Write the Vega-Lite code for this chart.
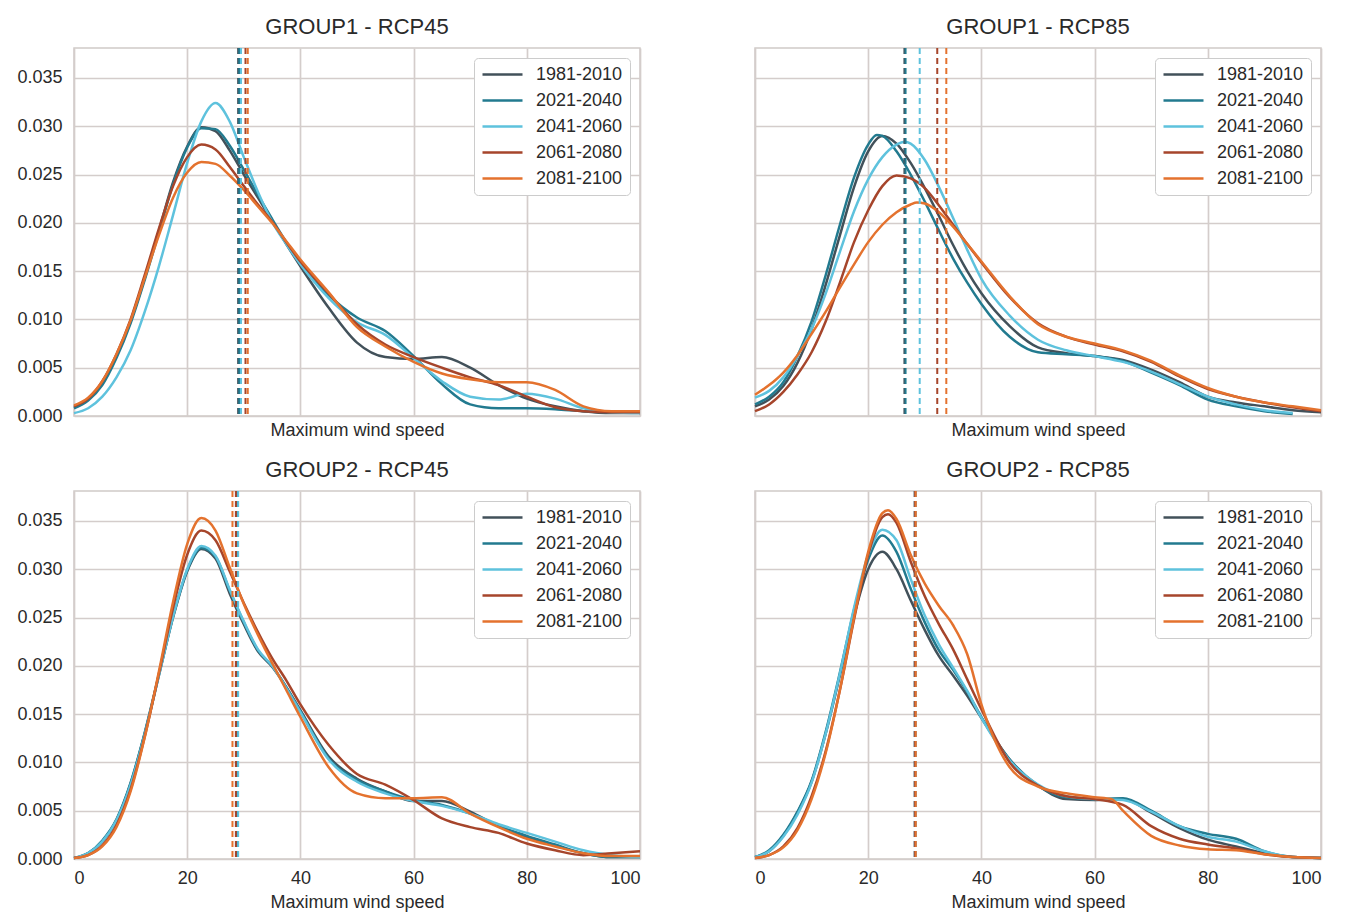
{
  "$schema": "https://vega.github.io/schema/vega-lite/v6.json",
  "background": "white",
  "padding": {"left": 16, "top": 15, "right": 5, "bottom": 5},
  "config": {
    "font": "Liberation Sans",
    "view": {"stroke": "#d0cac8", "strokeWidth": 1.5},
    "axis": {"gridColor": "#d4cdcb", "gridWidth": 1.7, "ticks": false, "domain": false, "labelFontSize": 18, "labelColor": "#2a2a2a", "titleFontSize": 18, "titleFontWeight": "normal", "titleColor": "#2a2a2a"},
    "title": {"fontSize": 22, "fontWeight": "normal", "color": "#2a2a2a", "offset": 8},
    "legend": {"orient": "top-right", "offset": 10, "symbolType": "M-1,0H4", "symbolSize": 256, "symbolStrokeWidth": 2.5, "labelFontSize": 18, "labelOffset": 36, "labelColor": "#2a2a2a", "rowPadding": 7, "padding": 7, "strokeColor": "#cccccc", "fillColor": "#ffffff", "cornerRadius": 4}
  },
  "datasets": {
    "curves": [
      {"panel":"A","period":"1981-2010","x":0,"y":0.0009},{"panel":"A","period":"1981-2010","x":2.5,"y":0.0017},{"panel":"A","period":"1981-2010","x":5,"y":0.0034},{"panel":"A","period":"1981-2010","x":7.5,"y":0.0062},{"panel":"A","period":"1981-2010","x":10,"y":0.0098},{"panel":"A","period":"1981-2010","x":12.5,"y":0.0143},{"panel":"A","period":"1981-2010","x":15,"y":0.0192},{"panel":"A","period":"1981-2010","x":17.5,"y":0.0242},{"panel":"A","period":"1981-2010","x":20,"y":0.0279},{"panel":"A","period":"1981-2010","x":22.5,"y":0.0299},{"panel":"A","period":"1981-2010","x":25,"y":0.0295},{"panel":"A","period":"1981-2010","x":27.5,"y":0.0275},{"panel":"A","period":"1981-2010","x":30,"y":0.025},{"panel":"A","period":"1981-2010","x":32.5,"y":0.0226},{"panel":"A","period":"1981-2010","x":35,"y":0.0202},{"panel":"A","period":"1981-2010","x":37.5,"y":0.0178},{"panel":"A","period":"1981-2010","x":40,"y":0.0155},{"panel":"A","period":"1981-2010","x":45,"y":0.0112},{"panel":"A","period":"1981-2010","x":50,"y":0.0076},{"panel":"A","period":"1981-2010","x":55,"y":0.0061},{"panel":"A","period":"1981-2010","x":60,"y":0.0059},{"panel":"A","period":"1981-2010","x":65,"y":0.0061},{"panel":"A","period":"1981-2010","x":70,"y":0.005},{"panel":"A","period":"1981-2010","x":75,"y":0.0032},{"panel":"A","period":"1981-2010","x":80,"y":0.0018},{"panel":"A","period":"1981-2010","x":85,"y":0.001},{"panel":"A","period":"1981-2010","x":90,"y":0.0005},{"panel":"A","period":"1981-2010","x":95,"y":0.0003},{"panel":"A","period":"1981-2010","x":100,"y":0.0003},
      {"panel":"A","period":"2021-2040","x":0,"y":0.0008},{"panel":"A","period":"2021-2040","x":2.5,"y":0.0016},{"panel":"A","period":"2021-2040","x":5,"y":0.0032},{"panel":"A","period":"2021-2040","x":7.5,"y":0.006},{"panel":"A","period":"2021-2040","x":10,"y":0.0096},{"panel":"A","period":"2021-2040","x":12.5,"y":0.0141},{"panel":"A","period":"2021-2040","x":15,"y":0.019},{"panel":"A","period":"2021-2040","x":17.5,"y":0.024},{"panel":"A","period":"2021-2040","x":20,"y":0.0278},{"panel":"A","period":"2021-2040","x":22.5,"y":0.0298},{"panel":"A","period":"2021-2040","x":25,"y":0.0297},{"panel":"A","period":"2021-2040","x":27.5,"y":0.028},{"panel":"A","period":"2021-2040","x":30,"y":0.0255},{"panel":"A","period":"2021-2040","x":32.5,"y":0.0229},{"panel":"A","period":"2021-2040","x":35,"y":0.0204},{"panel":"A","period":"2021-2040","x":37.5,"y":0.018},{"panel":"A","period":"2021-2040","x":40,"y":0.0158},{"panel":"A","period":"2021-2040","x":45,"y":0.0125},{"panel":"A","period":"2021-2040","x":50,"y":0.0102},{"panel":"A","period":"2021-2040","x":55,"y":0.0088},{"panel":"A","period":"2021-2040","x":60,"y":0.0062},{"panel":"A","period":"2021-2040","x":65,"y":0.0033},{"panel":"A","period":"2021-2040","x":70,"y":0.0012},{"panel":"A","period":"2021-2040","x":75,"y":0.0008},{"panel":"A","period":"2021-2040","x":80,"y":0.0008},{"panel":"A","period":"2021-2040","x":85,"y":0.0007},{"panel":"A","period":"2021-2040","x":90,"y":0.0005},{"panel":"A","period":"2021-2040","x":95,"y":0.0004},{"panel":"A","period":"2021-2040","x":100,"y":0.0004},
      {"panel":"A","period":"2041-2060","x":0,"y":0.0003},{"panel":"A","period":"2041-2060","x":2.5,"y":0.0008},{"panel":"A","period":"2041-2060","x":5,"y":0.002},{"panel":"A","period":"2041-2060","x":7.5,"y":0.004},{"panel":"A","period":"2041-2060","x":10,"y":0.0068},{"panel":"A","period":"2041-2060","x":12.5,"y":0.0108},{"panel":"A","period":"2041-2060","x":15,"y":0.0155},{"panel":"A","period":"2041-2060","x":17.5,"y":0.0208},{"panel":"A","period":"2041-2060","x":20,"y":0.0262},{"panel":"A","period":"2041-2060","x":22.5,"y":0.0305},{"panel":"A","period":"2041-2060","x":25,"y":0.0324},{"panel":"A","period":"2041-2060","x":27.5,"y":0.0305},{"panel":"A","period":"2041-2060","x":30,"y":0.0268},{"panel":"A","period":"2041-2060","x":32.5,"y":0.0232},{"panel":"A","period":"2041-2060","x":35,"y":0.0201},{"panel":"A","period":"2041-2060","x":37.5,"y":0.0178},{"panel":"A","period":"2041-2060","x":40,"y":0.0157},{"panel":"A","period":"2041-2060","x":45,"y":0.0122},{"panel":"A","period":"2041-2060","x":50,"y":0.0097},{"panel":"A","period":"2041-2060","x":55,"y":0.0084},{"panel":"A","period":"2041-2060","x":60,"y":0.006},{"panel":"A","period":"2041-2060","x":65,"y":0.0036},{"panel":"A","period":"2041-2060","x":70,"y":0.002},{"panel":"A","period":"2041-2060","x":75,"y":0.0017},{"panel":"A","period":"2041-2060","x":80,"y":0.0023},{"panel":"A","period":"2041-2060","x":85,"y":0.0018},{"panel":"A","period":"2041-2060","x":90,"y":0.0008},{"panel":"A","period":"2041-2060","x":95,"y":0.0004},{"panel":"A","period":"2041-2060","x":100,"y":0.0003},
      {"panel":"A","period":"2061-2080","x":0,"y":0.001},{"panel":"A","period":"2061-2080","x":2.5,"y":0.0018},{"panel":"A","period":"2061-2080","x":5,"y":0.0036},{"panel":"A","period":"2061-2080","x":7.5,"y":0.0064},{"panel":"A","period":"2061-2080","x":10,"y":0.01},{"panel":"A","period":"2061-2080","x":12.5,"y":0.0146},{"panel":"A","period":"2061-2080","x":15,"y":0.0194},{"panel":"A","period":"2061-2080","x":17.5,"y":0.0238},{"panel":"A","period":"2061-2080","x":20,"y":0.0268},{"panel":"A","period":"2061-2080","x":22.5,"y":0.0281},{"panel":"A","period":"2061-2080","x":25,"y":0.0276},{"panel":"A","period":"2061-2080","x":27.5,"y":0.0258},{"panel":"A","period":"2061-2080","x":30,"y":0.0238},{"panel":"A","period":"2061-2080","x":32.5,"y":0.0219},{"panel":"A","period":"2061-2080","x":35,"y":0.0201},{"panel":"A","period":"2061-2080","x":37.5,"y":0.018},{"panel":"A","period":"2061-2080","x":40,"y":0.016},{"panel":"A","period":"2061-2080","x":45,"y":0.0127},{"panel":"A","period":"2061-2080","x":50,"y":0.0095},{"panel":"A","period":"2061-2080","x":55,"y":0.0074},{"panel":"A","period":"2061-2080","x":60,"y":0.0061},{"panel":"A","period":"2061-2080","x":65,"y":0.005},{"panel":"A","period":"2061-2080","x":70,"y":0.004},{"panel":"A","period":"2061-2080","x":75,"y":0.0032},{"panel":"A","period":"2061-2080","x":80,"y":0.002},{"panel":"A","period":"2061-2080","x":85,"y":0.0009},{"panel":"A","period":"2061-2080","x":90,"y":0.0005},{"panel":"A","period":"2061-2080","x":95,"y":0.0004},{"panel":"A","period":"2061-2080","x":100,"y":0.0004},
      {"panel":"A","period":"2081-2100","x":0,"y":0.0011},{"panel":"A","period":"2081-2100","x":2.5,"y":0.0019},{"panel":"A","period":"2081-2100","x":5,"y":0.0036},{"panel":"A","period":"2081-2100","x":7.5,"y":0.0064},{"panel":"A","period":"2081-2100","x":10,"y":0.0099},{"panel":"A","period":"2081-2100","x":12.5,"y":0.0143},{"panel":"A","period":"2081-2100","x":15,"y":0.0187},{"panel":"A","period":"2081-2100","x":17.5,"y":0.0226},{"panel":"A","period":"2081-2100","x":20,"y":0.0252},{"panel":"A","period":"2081-2100","x":22.5,"y":0.0263},{"panel":"A","period":"2081-2100","x":25,"y":0.0261},{"panel":"A","period":"2081-2100","x":27.5,"y":0.0249},{"panel":"A","period":"2081-2100","x":30,"y":0.0234},{"panel":"A","period":"2081-2100","x":32.5,"y":0.0217},{"panel":"A","period":"2081-2100","x":35,"y":0.02},{"panel":"A","period":"2081-2100","x":37.5,"y":0.0181},{"panel":"A","period":"2081-2100","x":40,"y":0.0162},{"panel":"A","period":"2081-2100","x":45,"y":0.0128},{"panel":"A","period":"2081-2100","x":50,"y":0.0092},{"panel":"A","period":"2081-2100","x":55,"y":0.0072},{"panel":"A","period":"2081-2100","x":60,"y":0.0056},{"panel":"A","period":"2081-2100","x":65,"y":0.0044},{"panel":"A","period":"2081-2100","x":70,"y":0.0038},{"panel":"A","period":"2081-2100","x":75,"y":0.0035},{"panel":"A","period":"2081-2100","x":80,"y":0.0035},{"panel":"A","period":"2081-2100","x":85,"y":0.0027},{"panel":"A","period":"2081-2100","x":90,"y":0.001},{"panel":"A","period":"2081-2100","x":95,"y":0.0005},{"panel":"A","period":"2081-2100","x":100,"y":0.0005},

      {"panel":"B","period":"1981-2010","x":0,"y":0.001},{"panel":"B","period":"1981-2010","x":2.5,"y":0.0017},{"panel":"B","period":"1981-2010","x":5,"y":0.0031},{"panel":"B","period":"1981-2010","x":7.5,"y":0.0055},{"panel":"B","period":"1981-2010","x":10,"y":0.009},{"panel":"B","period":"1981-2010","x":12.5,"y":0.0136},{"panel":"B","period":"1981-2010","x":15,"y":0.0187},{"panel":"B","period":"1981-2010","x":17.5,"y":0.0237},{"panel":"B","period":"1981-2010","x":20,"y":0.0274},{"panel":"B","period":"1981-2010","x":22.5,"y":0.029},{"panel":"B","period":"1981-2010","x":25,"y":0.0282},{"panel":"B","period":"1981-2010","x":27.5,"y":0.0262},{"panel":"B","period":"1981-2010","x":30,"y":0.0236},{"panel":"B","period":"1981-2010","x":32.5,"y":0.0207},{"panel":"B","period":"1981-2010","x":35,"y":0.0177},{"panel":"B","period":"1981-2010","x":37.5,"y":0.015},{"panel":"B","period":"1981-2010","x":40,"y":0.0127},{"panel":"B","period":"1981-2010","x":45,"y":0.0093},{"panel":"B","period":"1981-2010","x":50,"y":0.0071},{"panel":"B","period":"1981-2010","x":55,"y":0.0065},{"panel":"B","period":"1981-2010","x":60,"y":0.0062},{"panel":"B","period":"1981-2010","x":65,"y":0.0058},{"panel":"B","period":"1981-2010","x":70,"y":0.0048},{"panel":"B","period":"1981-2010","x":75,"y":0.0035},{"panel":"B","period":"1981-2010","x":80,"y":0.002},{"panel":"B","period":"1981-2010","x":85,"y":0.0014},{"panel":"B","period":"1981-2010","x":90,"y":0.001},{"panel":"B","period":"1981-2010","x":95,"y":0.0006},{"panel":"B","period":"1981-2010","x":100,"y":0.0004},
      {"panel":"B","period":"2021-2040","x":0,"y":0.0012},{"panel":"B","period":"2021-2040","x":2.5,"y":0.002},{"panel":"B","period":"2021-2040","x":5,"y":0.0035},{"panel":"B","period":"2021-2040","x":7.5,"y":0.0062},{"panel":"B","period":"2021-2040","x":10,"y":0.0098},{"panel":"B","period":"2021-2040","x":12.5,"y":0.0146},{"panel":"B","period":"2021-2040","x":15,"y":0.0198},{"panel":"B","period":"2021-2040","x":17.5,"y":0.0247},{"panel":"B","period":"2021-2040","x":20,"y":0.0281},{"panel":"B","period":"2021-2040","x":21.5,"y":0.0291},{"panel":"B","period":"2021-2040","x":22.5,"y":0.029},{"panel":"B","period":"2021-2040","x":25,"y":0.0274},{"panel":"B","period":"2021-2040","x":27.5,"y":0.025},{"panel":"B","period":"2021-2040","x":30,"y":0.0222},{"panel":"B","period":"2021-2040","x":32.5,"y":0.0192},{"panel":"B","period":"2021-2040","x":35,"y":0.0163},{"panel":"B","period":"2021-2040","x":37.5,"y":0.0138},{"panel":"B","period":"2021-2040","x":40,"y":0.0116},{"panel":"B","period":"2021-2040","x":45,"y":0.0082},{"panel":"B","period":"2021-2040","x":50,"y":0.0066},{"panel":"B","period":"2021-2040","x":55,"y":0.0064},{"panel":"B","period":"2021-2040","x":60,"y":0.0062},{"panel":"B","period":"2021-2040","x":65,"y":0.0057},{"panel":"B","period":"2021-2040","x":70,"y":0.0045},{"panel":"B","period":"2021-2040","x":75,"y":0.0032},{"panel":"B","period":"2021-2040","x":80,"y":0.0017},{"panel":"B","period":"2021-2040","x":85,"y":0.001},{"panel":"B","period":"2021-2040","x":90,"y":0.0005},{"panel":"B","period":"2021-2040","x":95,"y":0.0002},
      {"panel":"B","period":"2041-2060","x":0,"y":0.0019},{"panel":"B","period":"2041-2060","x":2.5,"y":0.0026},{"panel":"B","period":"2041-2060","x":5,"y":0.004},{"panel":"B","period":"2041-2060","x":7.5,"y":0.0062},{"panel":"B","period":"2041-2060","x":10,"y":0.009},{"panel":"B","period":"2041-2060","x":12.5,"y":0.0127},{"panel":"B","period":"2041-2060","x":15,"y":0.017},{"panel":"B","period":"2041-2060","x":17.5,"y":0.0212},{"panel":"B","period":"2041-2060","x":20,"y":0.0245},{"panel":"B","period":"2041-2060","x":22.5,"y":0.0268},{"panel":"B","period":"2041-2060","x":25,"y":0.0281},{"panel":"B","period":"2041-2060","x":26.5,"y":0.0284},{"panel":"B","period":"2041-2060","x":27.5,"y":0.0282},{"panel":"B","period":"2041-2060","x":30,"y":0.0265},{"panel":"B","period":"2041-2060","x":32.5,"y":0.0237},{"panel":"B","period":"2041-2060","x":35,"y":0.0205},{"panel":"B","period":"2041-2060","x":37.5,"y":0.0172},{"panel":"B","period":"2041-2060","x":40,"y":0.0142},{"panel":"B","period":"2041-2060","x":45,"y":0.0104},{"panel":"B","period":"2041-2060","x":50,"y":0.0079},{"panel":"B","period":"2041-2060","x":55,"y":0.0068},{"panel":"B","period":"2041-2060","x":60,"y":0.0062},{"panel":"B","period":"2041-2060","x":65,"y":0.0056},{"panel":"B","period":"2041-2060","x":70,"y":0.0046},{"panel":"B","period":"2041-2060","x":75,"y":0.0033},{"panel":"B","period":"2041-2060","x":80,"y":0.002},{"panel":"B","period":"2041-2060","x":85,"y":0.0012},{"panel":"B","period":"2041-2060","x":90,"y":0.0006},{"panel":"B","period":"2041-2060","x":95,"y":0.0003},
      {"panel":"B","period":"2061-2080","x":0,"y":0.0005},{"panel":"B","period":"2061-2080","x":2.5,"y":0.0012},{"panel":"B","period":"2061-2080","x":5,"y":0.0025},{"panel":"B","period":"2061-2080","x":7.5,"y":0.0043},{"panel":"B","period":"2061-2080","x":10,"y":0.0066},{"panel":"B","period":"2061-2080","x":12.5,"y":0.0098},{"panel":"B","period":"2061-2080","x":15,"y":0.0138},{"panel":"B","period":"2061-2080","x":17.5,"y":0.018},{"panel":"B","period":"2061-2080","x":20,"y":0.0213},{"panel":"B","period":"2061-2080","x":22.5,"y":0.0238},{"panel":"B","period":"2061-2080","x":25,"y":0.0249},{"panel":"B","period":"2061-2080","x":27.5,"y":0.0246},{"panel":"B","period":"2061-2080","x":30,"y":0.0236},{"panel":"B","period":"2061-2080","x":32.5,"y":0.0218},{"panel":"B","period":"2061-2080","x":35,"y":0.0198},{"panel":"B","period":"2061-2080","x":37.5,"y":0.0178},{"panel":"B","period":"2061-2080","x":40,"y":0.0159},{"panel":"B","period":"2061-2080","x":45,"y":0.0123},{"panel":"B","period":"2061-2080","x":50,"y":0.0096},{"panel":"B","period":"2061-2080","x":55,"y":0.0082},{"panel":"B","period":"2061-2080","x":60,"y":0.0074},{"panel":"B","period":"2061-2080","x":65,"y":0.0067},{"panel":"B","period":"2061-2080","x":70,"y":0.0056},{"panel":"B","period":"2061-2080","x":75,"y":0.0041},{"panel":"B","period":"2061-2080","x":80,"y":0.0028},{"panel":"B","period":"2061-2080","x":85,"y":0.002},{"panel":"B","period":"2061-2080","x":90,"y":0.0014},{"panel":"B","period":"2061-2080","x":95,"y":0.0009},{"panel":"B","period":"2061-2080","x":100,"y":0.0005},
      {"panel":"B","period":"2081-2100","x":0,"y":0.0022},{"panel":"B","period":"2081-2100","x":2.5,"y":0.0032},{"panel":"B","period":"2081-2100","x":5,"y":0.0045},{"panel":"B","period":"2081-2100","x":7.5,"y":0.0063},{"panel":"B","period":"2081-2100","x":10,"y":0.0085},{"panel":"B","period":"2081-2100","x":12.5,"y":0.0108},{"panel":"B","period":"2081-2100","x":15,"y":0.0133},{"panel":"B","period":"2081-2100","x":17.5,"y":0.0157},{"panel":"B","period":"2081-2100","x":20,"y":0.018},{"panel":"B","period":"2081-2100","x":22.5,"y":0.0198},{"panel":"B","period":"2081-2100","x":25,"y":0.0211},{"panel":"B","period":"2081-2100","x":27.5,"y":0.0219},{"panel":"B","period":"2081-2100","x":28.6,"y":0.0221},{"panel":"B","period":"2081-2100","x":30,"y":0.022},{"panel":"B","period":"2081-2100","x":32.5,"y":0.0211},{"panel":"B","period":"2081-2100","x":35,"y":0.0196},{"panel":"B","period":"2081-2100","x":37.5,"y":0.0178},{"panel":"B","period":"2081-2100","x":40,"y":0.016},{"panel":"B","period":"2081-2100","x":45,"y":0.0124},{"panel":"B","period":"2081-2100","x":50,"y":0.0095},{"panel":"B","period":"2081-2100","x":55,"y":0.0082},{"panel":"B","period":"2081-2100","x":60,"y":0.0075},{"panel":"B","period":"2081-2100","x":65,"y":0.0068},{"panel":"B","period":"2081-2100","x":70,"y":0.0057},{"panel":"B","period":"2081-2100","x":75,"y":0.0042},{"panel":"B","period":"2081-2100","x":80,"y":0.0029},{"panel":"B","period":"2081-2100","x":85,"y":0.002},{"panel":"B","period":"2081-2100","x":90,"y":0.0014},{"panel":"B","period":"2081-2100","x":95,"y":0.001},{"panel":"B","period":"2081-2100","x":100,"y":0.0006},

      {"panel":"C","period":"1981-2010","x":0,"y":0.0001},{"panel":"C","period":"1981-2010","x":2.5,"y":0.0006},{"panel":"C","period":"1981-2010","x":5,"y":0.0018},{"panel":"C","period":"1981-2010","x":7.5,"y":0.004},{"panel":"C","period":"1981-2010","x":10,"y":0.0078},{"panel":"C","period":"1981-2010","x":12.5,"y":0.013},{"panel":"C","period":"1981-2010","x":15,"y":0.019},{"panel":"C","period":"1981-2010","x":17.5,"y":0.025},{"panel":"C","period":"1981-2010","x":20,"y":0.0298},{"panel":"C","period":"1981-2010","x":22.5,"y":0.0321},{"panel":"C","period":"1981-2010","x":25,"y":0.0311},{"panel":"C","period":"1981-2010","x":27.5,"y":0.0275},{"panel":"C","period":"1981-2010","x":30,"y":0.0243},{"panel":"C","period":"1981-2010","x":32.5,"y":0.0215},{"panel":"C","period":"1981-2010","x":35,"y":0.0199},{"panel":"C","period":"1981-2010","x":37.5,"y":0.0178},{"panel":"C","period":"1981-2010","x":40,"y":0.0154},{"panel":"C","period":"1981-2010","x":45,"y":0.0106},{"panel":"C","period":"1981-2010","x":50,"y":0.0083},{"panel":"C","period":"1981-2010","x":55,"y":0.007},{"panel":"C","period":"1981-2010","x":60,"y":0.006},{"panel":"C","period":"1981-2010","x":65,"y":0.006},{"panel":"C","period":"1981-2010","x":70,"y":0.0049},{"panel":"C","period":"1981-2010","x":75,"y":0.0034},{"panel":"C","period":"1981-2010","x":80,"y":0.0023},{"panel":"C","period":"1981-2010","x":85,"y":0.0014},{"panel":"C","period":"1981-2010","x":90,"y":0.0006},{"panel":"C","period":"1981-2010","x":95,"y":0.0002},{"panel":"C","period":"1981-2010","x":100,"y":0.0002},
      {"panel":"C","period":"2021-2040","x":0,"y":0.0001},{"panel":"C","period":"2021-2040","x":2.5,"y":0.0006},{"panel":"C","period":"2021-2040","x":5,"y":0.0019},{"panel":"C","period":"2021-2040","x":7.5,"y":0.0041},{"panel":"C","period":"2021-2040","x":10,"y":0.0079},{"panel":"C","period":"2021-2040","x":12.5,"y":0.0131},{"panel":"C","period":"2021-2040","x":15,"y":0.0191},{"panel":"C","period":"2021-2040","x":17.5,"y":0.0251},{"panel":"C","period":"2021-2040","x":20,"y":0.0299},{"panel":"C","period":"2021-2040","x":22.5,"y":0.0322},{"panel":"C","period":"2021-2040","x":25,"y":0.0313},{"panel":"C","period":"2021-2040","x":27.5,"y":0.0278},{"panel":"C","period":"2021-2040","x":30,"y":0.0245},{"panel":"C","period":"2021-2040","x":32.5,"y":0.0216},{"panel":"C","period":"2021-2040","x":35,"y":0.02},{"panel":"C","period":"2021-2040","x":37.5,"y":0.0178},{"panel":"C","period":"2021-2040","x":40,"y":0.0153},{"panel":"C","period":"2021-2040","x":45,"y":0.0104},{"panel":"C","period":"2021-2040","x":50,"y":0.0082},{"panel":"C","period":"2021-2040","x":55,"y":0.007},{"panel":"C","period":"2021-2040","x":60,"y":0.0061},{"panel":"C","period":"2021-2040","x":65,"y":0.0056},{"panel":"C","period":"2021-2040","x":70,"y":0.0047},{"panel":"C","period":"2021-2040","x":75,"y":0.0034},{"panel":"C","period":"2021-2040","x":80,"y":0.0024},{"panel":"C","period":"2021-2040","x":85,"y":0.0015},{"panel":"C","period":"2021-2040","x":90,"y":0.0006},{"panel":"C","period":"2021-2040","x":95,"y":0.0002},{"panel":"C","period":"2021-2040","x":100,"y":0.0002},
      {"panel":"C","period":"2041-2060","x":0,"y":0.0001},{"panel":"C","period":"2041-2060","x":2.5,"y":0.0006},{"panel":"C","period":"2041-2060","x":5,"y":0.0018},{"panel":"C","period":"2041-2060","x":7.5,"y":0.004},{"panel":"C","period":"2041-2060","x":10,"y":0.0077},{"panel":"C","period":"2041-2060","x":12.5,"y":0.0129},{"panel":"C","period":"2041-2060","x":15,"y":0.019},{"panel":"C","period":"2041-2060","x":17.5,"y":0.0251},{"panel":"C","period":"2041-2060","x":20,"y":0.03},{"panel":"C","period":"2041-2060","x":22.5,"y":0.0324},{"panel":"C","period":"2041-2060","x":25,"y":0.0314},{"panel":"C","period":"2041-2060","x":27.5,"y":0.0279},{"panel":"C","period":"2041-2060","x":30,"y":0.0246},{"panel":"C","period":"2041-2060","x":32.5,"y":0.0217},{"panel":"C","period":"2041-2060","x":35,"y":0.02},{"panel":"C","period":"2041-2060","x":37.5,"y":0.0177},{"panel":"C","period":"2041-2060","x":40,"y":0.0152},{"panel":"C","period":"2041-2060","x":45,"y":0.0103},{"panel":"C","period":"2041-2060","x":50,"y":0.008},{"panel":"C","period":"2041-2060","x":55,"y":0.0068},{"panel":"C","period":"2041-2060","x":60,"y":0.006},{"panel":"C","period":"2041-2060","x":65,"y":0.0055},{"panel":"C","period":"2041-2060","x":70,"y":0.0047},{"panel":"C","period":"2041-2060","x":75,"y":0.0036},{"panel":"C","period":"2041-2060","x":80,"y":0.0027},{"panel":"C","period":"2041-2060","x":85,"y":0.0018},{"panel":"C","period":"2041-2060","x":90,"y":0.0009},{"panel":"C","period":"2041-2060","x":95,"y":0.0004},{"panel":"C","period":"2041-2060","x":100,"y":0.0002},
      {"panel":"C","period":"2061-2080","x":0,"y":0.0001},{"panel":"C","period":"2061-2080","x":2.5,"y":0.0004},{"panel":"C","period":"2061-2080","x":5,"y":0.0014},{"panel":"C","period":"2061-2080","x":7.5,"y":0.0035},{"panel":"C","period":"2061-2080","x":10,"y":0.0072},{"panel":"C","period":"2061-2080","x":12.5,"y":0.0127},{"panel":"C","period":"2061-2080","x":15,"y":0.0192},{"panel":"C","period":"2061-2080","x":17.5,"y":0.026},{"panel":"C","period":"2061-2080","x":20,"y":0.0315},{"panel":"C","period":"2061-2080","x":22.5,"y":0.034},{"panel":"C","period":"2061-2080","x":25,"y":0.033},{"panel":"C","period":"2061-2080","x":27.5,"y":0.0298},{"panel":"C","period":"2061-2080","x":30,"y":0.0265},{"panel":"C","period":"2061-2080","x":32.5,"y":0.0235},{"panel":"C","period":"2061-2080","x":35,"y":0.0208},{"panel":"C","period":"2061-2080","x":37.5,"y":0.0185},{"panel":"C","period":"2061-2080","x":40,"y":0.016},{"panel":"C","period":"2061-2080","x":45,"y":0.0118},{"panel":"C","period":"2061-2080","x":50,"y":0.0088},{"panel":"C","period":"2061-2080","x":55,"y":0.0077},{"panel":"C","period":"2061-2080","x":60,"y":0.0061},{"panel":"C","period":"2061-2080","x":65,"y":0.0042},{"panel":"C","period":"2061-2080","x":70,"y":0.0033},{"panel":"C","period":"2061-2080","x":75,"y":0.0027},{"panel":"C","period":"2061-2080","x":80,"y":0.0016},{"panel":"C","period":"2061-2080","x":85,"y":0.0009},{"panel":"C","period":"2061-2080","x":90,"y":0.0004},{"panel":"C","period":"2061-2080","x":95,"y":0.0006},{"panel":"C","period":"2061-2080","x":100,"y":0.0008},
      {"panel":"C","period":"2081-2100","x":0,"y":0.0001},{"panel":"C","period":"2081-2100","x":2.5,"y":0.0004},{"panel":"C","period":"2081-2100","x":5,"y":0.0013},{"panel":"C","period":"2081-2100","x":7.5,"y":0.0033},{"panel":"C","period":"2081-2100","x":10,"y":0.007},{"panel":"C","period":"2081-2100","x":12.5,"y":0.0126},{"panel":"C","period":"2081-2100","x":15,"y":0.0194},{"panel":"C","period":"2081-2100","x":17.5,"y":0.0266},{"panel":"C","period":"2081-2100","x":20,"y":0.0326},{"panel":"C","period":"2081-2100","x":22.5,"y":0.0353},{"panel":"C","period":"2081-2100","x":25,"y":0.034},{"panel":"C","period":"2081-2100","x":27.5,"y":0.0302},{"panel":"C","period":"2081-2100","x":30,"y":0.0264},{"panel":"C","period":"2081-2100","x":32.5,"y":0.0232},{"panel":"C","period":"2081-2100","x":35,"y":0.0203},{"panel":"C","period":"2081-2100","x":37.5,"y":0.0175},{"panel":"C","period":"2081-2100","x":40,"y":0.0147},{"panel":"C","period":"2081-2100","x":45,"y":0.0095},{"panel":"C","period":"2081-2100","x":50,"y":0.0068},{"panel":"C","period":"2081-2100","x":55,"y":0.0063},{"panel":"C","period":"2081-2100","x":60,"y":0.0063},{"panel":"C","period":"2081-2100","x":65,"y":0.0064},{"panel":"C","period":"2081-2100","x":70,"y":0.0047},{"panel":"C","period":"2081-2100","x":75,"y":0.0033},{"panel":"C","period":"2081-2100","x":80,"y":0.0021},{"panel":"C","period":"2081-2100","x":85,"y":0.0013},{"panel":"C","period":"2081-2100","x":90,"y":0.0006},{"panel":"C","period":"2081-2100","x":95,"y":0.0003},{"panel":"C","period":"2081-2100","x":100,"y":0.0003},

      {"panel":"D","period":"1981-2010","x":0,"y":0.0002},{"panel":"D","period":"1981-2010","x":2.5,"y":0.0008},{"panel":"D","period":"1981-2010","x":5,"y":0.0024},{"panel":"D","period":"1981-2010","x":7.5,"y":0.0048},{"panel":"D","period":"1981-2010","x":10,"y":0.008},{"panel":"D","period":"1981-2010","x":12.5,"y":0.013},{"panel":"D","period":"1981-2010","x":15,"y":0.019},{"panel":"D","period":"1981-2010","x":17.5,"y":0.0252},{"panel":"D","period":"1981-2010","x":20,"y":0.03},{"panel":"D","period":"1981-2010","x":22.5,"y":0.0318},{"panel":"D","period":"1981-2010","x":25,"y":0.03},{"panel":"D","period":"1981-2010","x":27.5,"y":0.0268},{"panel":"D","period":"1981-2010","x":30,"y":0.0237},{"panel":"D","period":"1981-2010","x":32.5,"y":0.021},{"panel":"D","period":"1981-2010","x":35,"y":0.019},{"panel":"D","period":"1981-2010","x":37.5,"y":0.0169},{"panel":"D","period":"1981-2010","x":40,"y":0.0146},{"panel":"D","period":"1981-2010","x":45,"y":0.0103},{"panel":"D","period":"1981-2010","x":50,"y":0.0076},{"panel":"D","period":"1981-2010","x":55,"y":0.0062},{"panel":"D","period":"1981-2010","x":60,"y":0.0061},{"panel":"D","period":"1981-2010","x":65,"y":0.0062},{"panel":"D","period":"1981-2010","x":70,"y":0.0048},{"panel":"D","period":"1981-2010","x":75,"y":0.0032},{"panel":"D","period":"1981-2010","x":80,"y":0.002},{"panel":"D","period":"1981-2010","x":85,"y":0.0013},{"panel":"D","period":"1981-2010","x":90,"y":0.0006},{"panel":"D","period":"1981-2010","x":95,"y":0.0002},{"panel":"D","period":"1981-2010","x":100,"y":0.0001},
      {"panel":"D","period":"2021-2040","x":0,"y":0.0002},{"panel":"D","period":"2021-2040","x":2.5,"y":0.0009},{"panel":"D","period":"2021-2040","x":5,"y":0.0025},{"panel":"D","period":"2021-2040","x":7.5,"y":0.0049},{"panel":"D","period":"2021-2040","x":10,"y":0.0081},{"panel":"D","period":"2021-2040","x":12.5,"y":0.0132},{"panel":"D","period":"2021-2040","x":15,"y":0.0193},{"panel":"D","period":"2021-2040","x":17.5,"y":0.0258},{"panel":"D","period":"2021-2040","x":20,"y":0.031},{"panel":"D","period":"2021-2040","x":22.5,"y":0.0335},{"panel":"D","period":"2021-2040","x":25,"y":0.0318},{"panel":"D","period":"2021-2040","x":27.5,"y":0.028},{"panel":"D","period":"2021-2040","x":30,"y":0.0245},{"panel":"D","period":"2021-2040","x":32.5,"y":0.0216},{"panel":"D","period":"2021-2040","x":35,"y":0.0196},{"panel":"D","period":"2021-2040","x":37.5,"y":0.0173},{"panel":"D","period":"2021-2040","x":40,"y":0.0147},{"panel":"D","period":"2021-2040","x":45,"y":0.0103},{"panel":"D","period":"2021-2040","x":50,"y":0.0076},{"panel":"D","period":"2021-2040","x":55,"y":0.0064},{"panel":"D","period":"2021-2040","x":60,"y":0.0062},{"panel":"D","period":"2021-2040","x":65,"y":0.0063},{"panel":"D","period":"2021-2040","x":70,"y":0.005},{"panel":"D","period":"2021-2040","x":75,"y":0.0034},{"panel":"D","period":"2021-2040","x":80,"y":0.0026},{"panel":"D","period":"2021-2040","x":85,"y":0.0021},{"panel":"D","period":"2021-2040","x":90,"y":0.0008},{"panel":"D","period":"2021-2040","x":95,"y":0.0002},{"panel":"D","period":"2021-2040","x":100,"y":0.0001},
      {"panel":"D","period":"2041-2060","x":0,"y":0.0002},{"panel":"D","period":"2041-2060","x":2.5,"y":0.0008},{"panel":"D","period":"2041-2060","x":5,"y":0.0023},{"panel":"D","period":"2041-2060","x":7.5,"y":0.0046},{"panel":"D","period":"2041-2060","x":10,"y":0.0079},{"panel":"D","period":"2041-2060","x":12.5,"y":0.013},{"panel":"D","period":"2041-2060","x":15,"y":0.0192},{"panel":"D","period":"2041-2060","x":17.5,"y":0.026},{"panel":"D","period":"2041-2060","x":20,"y":0.0315},{"panel":"D","period":"2041-2060","x":22.5,"y":0.0341},{"panel":"D","period":"2041-2060","x":25,"y":0.033},{"panel":"D","period":"2041-2060","x":27.5,"y":0.029},{"panel":"D","period":"2041-2060","x":30,"y":0.0252},{"panel":"D","period":"2041-2060","x":32.5,"y":0.0222},{"panel":"D","period":"2041-2060","x":35,"y":0.0198},{"panel":"D","period":"2041-2060","x":37.5,"y":0.0174},{"panel":"D","period":"2041-2060","x":40,"y":0.0146},{"panel":"D","period":"2041-2060","x":45,"y":0.0102},{"panel":"D","period":"2041-2060","x":50,"y":0.0077},{"panel":"D","period":"2041-2060","x":55,"y":0.0065},{"panel":"D","period":"2041-2060","x":60,"y":0.0062},{"panel":"D","period":"2041-2060","x":65,"y":0.0061},{"panel":"D","period":"2041-2060","x":70,"y":0.0049},{"panel":"D","period":"2041-2060","x":75,"y":0.0034},{"panel":"D","period":"2041-2060","x":80,"y":0.0023},{"panel":"D","period":"2041-2060","x":85,"y":0.0018},{"panel":"D","period":"2041-2060","x":90,"y":0.0008},{"panel":"D","period":"2041-2060","x":95,"y":0.0002},{"panel":"D","period":"2041-2060","x":100,"y":0.0001},
      {"panel":"D","period":"2061-2080","x":0,"y":0.0001},{"panel":"D","period":"2061-2080","x":2.5,"y":0.0004},{"panel":"D","period":"2061-2080","x":5,"y":0.0013},{"panel":"D","period":"2061-2080","x":7.5,"y":0.0032},{"panel":"D","period":"2061-2080","x":10,"y":0.0065},{"panel":"D","period":"2061-2080","x":12.5,"y":0.0112},{"panel":"D","period":"2061-2080","x":15,"y":0.0175},{"panel":"D","period":"2061-2080","x":17.5,"y":0.0248},{"panel":"D","period":"2061-2080","x":20,"y":0.0315},{"panel":"D","period":"2061-2080","x":22.5,"y":0.0354},{"panel":"D","period":"2061-2080","x":23.5,"y":0.0357},{"panel":"D","period":"2061-2080","x":25,"y":0.0348},{"panel":"D","period":"2061-2080","x":27.5,"y":0.0308},{"panel":"D","period":"2061-2080","x":30,"y":0.0272},{"panel":"D","period":"2061-2080","x":32.5,"y":0.0243},{"panel":"D","period":"2061-2080","x":35,"y":0.0217},{"panel":"D","period":"2061-2080","x":37.5,"y":0.0186},{"panel":"D","period":"2061-2080","x":40,"y":0.0155},{"panel":"D","period":"2061-2080","x":45,"y":0.01},{"panel":"D","period":"2061-2080","x":50,"y":0.0076},{"panel":"D","period":"2061-2080","x":55,"y":0.0065},{"panel":"D","period":"2061-2080","x":60,"y":0.0062},{"panel":"D","period":"2061-2080","x":65,"y":0.0056},{"panel":"D","period":"2061-2080","x":70,"y":0.0034},{"panel":"D","period":"2061-2080","x":75,"y":0.0021},{"panel":"D","period":"2061-2080","x":80,"y":0.0015},{"panel":"D","period":"2061-2080","x":85,"y":0.0011},{"panel":"D","period":"2061-2080","x":90,"y":0.0005},{"panel":"D","period":"2061-2080","x":95,"y":0.0002},{"panel":"D","period":"2061-2080","x":100,"y":0.0001},
      {"panel":"D","period":"2081-2100","x":0,"y":0.0001},{"panel":"D","period":"2081-2100","x":2.5,"y":0.0004},{"panel":"D","period":"2081-2100","x":5,"y":0.0012},{"panel":"D","period":"2081-2100","x":7.5,"y":0.003},{"panel":"D","period":"2081-2100","x":10,"y":0.0062},{"panel":"D","period":"2081-2100","x":12.5,"y":0.011},{"panel":"D","period":"2081-2100","x":15,"y":0.0175},{"panel":"D","period":"2081-2100","x":17.5,"y":0.025},{"panel":"D","period":"2081-2100","x":20,"y":0.0318},{"panel":"D","period":"2081-2100","x":22.5,"y":0.0358},{"panel":"D","period":"2081-2100","x":23.5,"y":0.0361},{"panel":"D","period":"2081-2100","x":25,"y":0.0352},{"panel":"D","period":"2081-2100","x":27.5,"y":0.0315},{"panel":"D","period":"2081-2100","x":30,"y":0.0285},{"panel":"D","period":"2081-2100","x":32.5,"y":0.0262},{"panel":"D","period":"2081-2100","x":35,"y":0.0242},{"panel":"D","period":"2081-2100","x":37.5,"y":0.0212},{"panel":"D","period":"2081-2100","x":40,"y":0.016},{"panel":"D","period":"2081-2100","x":45,"y":0.0095},{"panel":"D","period":"2081-2100","x":50,"y":0.0075},{"panel":"D","period":"2081-2100","x":55,"y":0.0068},{"panel":"D","period":"2081-2100","x":60,"y":0.0064},{"panel":"D","period":"2081-2100","x":63,"y":0.0062},{"panel":"D","period":"2081-2100","x":65,"y":0.005},{"panel":"D","period":"2081-2100","x":70,"y":0.0024},{"panel":"D","period":"2081-2100","x":75,"y":0.0014},{"panel":"D","period":"2081-2100","x":80,"y":0.001},{"panel":"D","period":"2081-2100","x":85,"y":0.0009},{"panel":"D","period":"2081-2100","x":90,"y":0.0005},{"panel":"D","period":"2081-2100","x":95,"y":0.0002},{"panel":"D","period":"2081-2100","x":100,"y":0.0001}
    ],
    "means": [
      {"panel":"A","period":"1981-2010","mean":29.0},{"panel":"A","period":"2021-2040","mean":29.2},{"panel":"A","period":"2041-2060","mean":29.5},{"panel":"A","period":"2061-2080","mean":30.3},{"panel":"A","period":"2081-2100","mean":30.7},
      {"panel":"B","period":"1981-2010","mean":26.4},{"panel":"B","period":"2021-2040","mean":26.6},{"panel":"B","period":"2041-2060","mean":29.1},{"panel":"B","period":"2061-2080","mean":32.2},{"panel":"B","period":"2081-2100","mean":33.8},
      {"panel":"C","period":"1981-2010","mean":28.8},{"panel":"C","period":"2021-2040","mean":28.9},{"panel":"C","period":"2041-2060","mean":29.0},{"panel":"C","period":"2061-2080","mean":28.6},{"panel":"C","period":"2081-2100","mean":28.0},
      {"panel":"D","period":"1981-2010","mean":28.2},{"panel":"D","period":"2021-2040","mean":28.3},{"panel":"D","period":"2041-2060","mean":28.4},{"panel":"D","period":"2061-2080","mean":28.3},{"panel":"D","period":"2081-2100","mean":28.4}
    ]
  },
  "spacing": 18,
  "resolve": {"scale": {"color": "independent"}, "legend": {"color": "independent"}},
  "vconcat": [
    {
      "spacing": 103,
      "resolve": {"scale": {"color": "independent"}, "legend": {"color": "independent"}},
      "hconcat": [
        {
          "title": "GROUP1 - RCP45", "width": 566, "height": 368,
          "layer": [
            {"data": {"name": "curves"}, "transform": [{"filter": {"field": "panel", "equal": "A"}}],
             "mark": {"type": "line", "interpolate": "monotone", "strokeWidth": 2.5},
             "encoding": {
               "x": {"field": "x", "type": "quantitative", "scale": {"domain": [0, 100], "nice": false}, "axis": {"labels": false, "values": [0,20,40,60,80,100], "title": "Maximum wind speed", "titlePadding": 5}},
               "y": {"field": "y", "type": "quantitative", "scale": {"domain": [0, 0.0381], "nice": false}, "axis": {"values": [0,0.005,0.01,0.015,0.02,0.025,0.03,0.035], "format": ".3f", "title": null, "labelPadding": 12}},
               "color": {"field": "period", "type": "nominal", "scale": {"domain": ["1981-2010","2021-2040","2041-2060","2061-2080","2081-2100"], "range": ["#42515a","#227a8f","#5ec2dd","#a6452b","#e4722e"]}, "legend": {"title": null}}
             }},
            {"data": {"name": "means"}, "transform": [{"filter": {"field": "panel", "equal": "A"}}],
             "mark": {"type": "rule", "strokeDash": [6, 4], "strokeWidth": 2},
             "encoding": {
               "x": {"field": "mean", "type": "quantitative"},
               "color": {"field": "period", "type": "nominal", "legend": null}
             }}
          ]
        },
        {
          "title": "GROUP1 - RCP85", "width": 566, "height": 368,
          "layer": [
            {"data": {"name": "curves"}, "transform": [{"filter": {"field": "panel", "equal": "B"}}],
             "mark": {"type": "line", "interpolate": "monotone", "strokeWidth": 2.5},
             "encoding": {
               "x": {"field": "x", "type": "quantitative", "scale": {"domain": [0, 100], "nice": false}, "axis": {"labels": false, "values": [0,20,40,60,80,100], "title": "Maximum wind speed", "titlePadding": 5}},
               "y": {"field": "y", "type": "quantitative", "scale": {"domain": [0, 0.0381], "nice": false}, "axis": {"labels": false, "values": [0,0.005,0.01,0.015,0.02,0.025,0.03,0.035], "title": null}},
               "color": {"field": "period", "type": "nominal", "scale": {"domain": ["1981-2010","2021-2040","2041-2060","2061-2080","2081-2100"], "range": ["#42515a","#227a8f","#5ec2dd","#a6452b","#e4722e"]}, "legend": {"title": null}}
             }},
            {"data": {"name": "means"}, "transform": [{"filter": {"field": "panel", "equal": "B"}}],
             "mark": {"type": "rule", "strokeDash": [6, 4], "strokeWidth": 2},
             "encoding": {
               "x": {"field": "mean", "type": "quantitative"},
               "color": {"field": "period", "type": "nominal", "legend": null}
             }}
          ]
        }
      ]
    },
    {
      "spacing": 103,
      "resolve": {"scale": {"color": "independent"}, "legend": {"color": "independent"}},
      "hconcat": [
        {
          "title": "GROUP2 - RCP45", "width": 566, "height": 368,
          "layer": [
            {"data": {"name": "curves"}, "transform": [{"filter": {"field": "panel", "equal": "C"}}],
             "mark": {"type": "line", "interpolate": "monotone", "strokeWidth": 2.5},
             "encoding": {
               "x": {"field": "x", "type": "quantitative", "scale": {"domain": [0, 100], "nice": false}, "axis": {"values": [0,20,40,60,80,100], "title": "Maximum wind speed", "labelPadding": 10, "titlePadding": 6}},
               "y": {"field": "y", "type": "quantitative", "scale": {"domain": [0, 0.0381], "nice": false}, "axis": {"values": [0,0.005,0.01,0.015,0.02,0.025,0.03,0.035], "format": ".3f", "title": null, "labelPadding": 12}},
               "color": {"field": "period", "type": "nominal", "scale": {"domain": ["1981-2010","2021-2040","2041-2060","2061-2080","2081-2100"], "range": ["#42515a","#227a8f","#5ec2dd","#a6452b","#e4722e"]}, "legend": {"title": null}}
             }},
            {"data": {"name": "means"}, "transform": [{"filter": {"field": "panel", "equal": "C"}}],
             "mark": {"type": "rule", "strokeDash": [6, 4], "strokeWidth": 2},
             "encoding": {
               "x": {"field": "mean", "type": "quantitative"},
               "color": {"field": "period", "type": "nominal", "legend": null}
             }}
          ]
        },
        {
          "title": "GROUP2 - RCP85", "width": 566, "height": 368,
          "layer": [
            {"data": {"name": "curves"}, "transform": [{"filter": {"field": "panel", "equal": "D"}}],
             "mark": {"type": "line", "interpolate": "monotone", "strokeWidth": 2.5},
             "encoding": {
               "x": {"field": "x", "type": "quantitative", "scale": {"domain": [0, 100], "nice": false}, "axis": {"values": [0,20,40,60,80,100], "title": "Maximum wind speed", "labelPadding": 10, "titlePadding": 6}},
               "y": {"field": "y", "type": "quantitative", "scale": {"domain": [0, 0.0381], "nice": false}, "axis": {"labels": false, "values": [0,0.005,0.01,0.015,0.02,0.025,0.03,0.035], "title": null}},
               "color": {"field": "period", "type": "nominal", "scale": {"domain": ["1981-2010","2021-2040","2041-2060","2061-2080","2081-2100"], "range": ["#42515a","#227a8f","#5ec2dd","#a6452b","#e4722e"]}, "legend": {"title": null}}
             }},
            {"data": {"name": "means"}, "transform": [{"filter": {"field": "panel", "equal": "D"}}],
             "mark": {"type": "rule", "strokeDash": [6, 4], "strokeWidth": 2},
             "encoding": {
               "x": {"field": "mean", "type": "quantitative"},
               "color": {"field": "period", "type": "nominal", "legend": null}
             }}
          ]
        }
      ]
    }
  ]
}
